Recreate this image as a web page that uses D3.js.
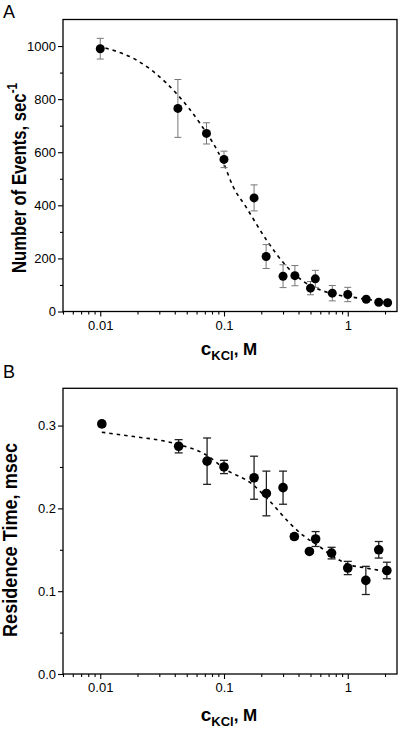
<!DOCTYPE html>
<html><head><meta charset="utf-8">
<script src="https://cdn.jsdelivr.net/npm/d3@7"></script>
<style>
html,body{margin:0;padding:0;background:#fff;}
svg{display:block;font-family:"Liberation Sans",Arial,sans-serif;}
</style></head>
<body>
<svg id="chart" width="400" height="735"></svg>
<script>
// ---- Data ----
const concA = [0.01, 0.0424, 0.0722, 0.1, 0.175, 0.219, 0.30, 0.374, 0.50, 0.547, 0.75, 1.0, 1.41, 1.78, 2.1];
const eventsA = [990, 765, 671, 573, 428, 207, 133, 135, 88, 123, 69, 64, 46, 35, 33];
const eventsErrA = [39, 109, 40, 31, 49, 45, 43, 38, 25, 32, 29, 27, 6, 4, 3];
const fitAx = [0.011, 0.02, 0.034, 0.0424, 0.0635, 0.1, 0.118, 0.15, 0.22, 0.32, 0.44, 0.72, 1.25, 2.0];
const fitAy = [993, 945, 862, 815, 711, 555, 472, 395, 270, 170, 113, 69, 50, 36];

const concB = [0.0103, 0.043, 0.073, 0.1, 0.175, 0.22, 0.30, 0.37, 0.49, 0.55, 0.74, 1.0, 1.4, 1.78, 2.07];
const timeB = [0.302, 0.275, 0.257, 0.250, 0.237, 0.218, 0.225, 0.166, 0.148, 0.163, 0.146, 0.128, 0.113, 0.150, 0.125];
const timeErrB = [0.003, 0.008, 0.028, 0.008, 0.026, 0.027, 0.020, 0.003, 0.002, 0.009, 0.007, 0.008, 0.017, 0.010, 0.010];
const fitBx = [0.0103, 0.018, 0.0336, 0.043, 0.071, 0.103, 0.17, 0.23, 0.34, 0.43, 0.59, 0.76, 1.03, 1.4, 2.0];
const fitBy = [0.292, 0.287, 0.281, 0.277, 0.265, 0.247, 0.229, 0.210, 0.182, 0.168, 0.154, 0.142, 0.132, 0.128, 0.124];

const xDomain = [0.005, 2.5];
const xMajor = [0.01, 0.1, 1];
const xMajorLabels = ["0.01", "0.1", "1"];
const xMinor = [0.005,0.006,0.007,0.008,0.009,0.02,0.03,0.04,0.05,0.06,0.07,0.08,0.09,0.2,0.3,0.4,0.5,0.6,0.7,0.8,0.9,2];
const yTicksA = [0, 200, 400, 600, 800, 1000];
const yMinorA = [100, 300, 500, 700, 900];
const yTicksB = [0, 0.1, 0.2, 0.3];
const yTickLabelsB = ["0.0", "0.1", "0.2", "0.3"];
const yMinorB = [0.05, 0.15, 0.25];

const svg = d3.select("#chart");

function panel(opt) {
  const x = d3.scaleLog().domain(xDomain).range([63, 397]);
  const y = d3.scaleLinear().domain(opt.yDomain).range([opt.bottom, opt.top]);
  const g = svg.append("g");

  // frame
  g.append("rect").attr("x", 63).attr("y", opt.top).attr("width", 334).attr("height", opt.bottom - opt.top)
    .attr("fill", "none").attr("stroke", "#000").attr("stroke-width", 1.3);

  // x axis
  const xAxis = d3.axisBottom(x).tickValues(xMajor).tickSize(5).tickPadding(4)
    .tickFormat((d, i) => xMajorLabels[i]);
  const xa = g.append("g").attr("transform", `translate(0,${opt.bottom})`).call(xAxis);
  xa.select(".domain").remove();
  const xm = d3.axisBottom(x).tickValues(xMinor).tickSize(3).tickFormat("");
  const xma = g.append("g").attr("transform", `translate(0,${opt.bottom})`).call(xm);
  xma.select(".domain").remove();

  // y axis
  const yAxis = d3.axisLeft(y).tickValues(opt.yTicks).tickSize(5).tickPadding(2)
    .tickFormat((d, i) => opt.yLabels[i]);
  const ya = g.append("g").attr("transform", `translate(63,0)`).call(yAxis);
  ya.select(".domain").remove();
  const ym = d3.axisLeft(y).tickValues(opt.yMinor).tickSize(3).tickFormat("");
  const yma = g.append("g").attr("transform", `translate(63,0)`).call(ym);
  yma.select(".domain").remove();

  g.selectAll(".tick line").attr("stroke", "#000").attr("stroke-width", 1.1);
  g.selectAll(".tick text").attr("font-size", 13).attr("fill", "#000")
    .attr("font-family", "'Liberation Sans', Arial, sans-serif");

  // fit curve
  const line = d3.line().x(d => x(d[0])).y(d => y(d[1])).curve(d3.curveMonotoneX);
  g.append("path").datum(opt.fx.map((v, i) => [v, opt.fy[i]]))
    .attr("d", line).attr("fill", "none").attr("stroke", "#000")
    .attr("stroke-width", 1.6).attr("stroke-dasharray", "3.5,4");

  // error bars
  const pts = opt.xs.map((v, i) => ({x: v, y: opt.ys[i], e: opt.es[i]}));
  const eb = g.append("g").attr("stroke", opt.errColor).attr("stroke-width", opt.errWidth);
  eb.selectAll("line.v").data(pts).join("line").attr("class", "v")
    .attr("x1", d => x(d.x)).attr("x2", d => x(d.x))
    .attr("y1", d => y(d.y - d.e)).attr("y2", d => y(d.y + d.e));
  eb.selectAll("line.t").data(pts).join("line").attr("class", "t")
    .attr("x1", d => x(d.x) - opt.cap).attr("x2", d => x(d.x) + opt.cap)
    .attr("y1", d => y(d.y + d.e)).attr("y2", d => y(d.y + d.e));
  eb.selectAll("line.b").data(pts).join("line").attr("class", "b")
    .attr("x1", d => x(d.x) - opt.cap).attr("x2", d => x(d.x) + opt.cap)
    .attr("y1", d => y(d.y - d.e)).attr("y2", d => y(d.y - d.e));

  // points
  g.append("g").selectAll("circle").data(pts).join("circle")
    .attr("cx", d => x(d.x)).attr("cy", d => y(d.y)).attr("r", opt.r).attr("fill", "#000");

  // panel letter
  svg.append("text").attr("x", opt.letterX).attr("y", opt.letterY).attr("font-size", 18)
    .attr("fill", "#000").text(opt.letter);

  // x title
  const xt = svg.append("text").attr("x", 229).attr("y", opt.xTitleY).attr("text-anchor", "middle")
    .attr("font-weight", "bold").attr("font-size", 17).attr("fill", "#000");
  xt.append("tspan").attr("font-size", 19).text("c");
  xt.append("tspan").attr("font-size", 13).attr("dy", 5).text("KCl");
  xt.append("tspan").attr("dy", -5).text(", M");

  // y title
  const yt = svg.append("text")
    .attr("transform", `translate(${opt.yTitleX},${opt.yTitleY}) rotate(-90)`)
    .attr("text-anchor", "middle").attr("font-weight", "bold").attr("font-size", 20)
    .attr("fill", "#000").attr("textLength", opt.yTitleLen).attr("lengthAdjust", "spacingAndGlyphs");
  yt.append("tspan").text(opt.yTitle);
  if (opt.yTitleSup) {
    yt.append("tspan").attr("font-size", 14).attr("dy", -9).text(opt.yTitleSup);
  }
}

panel({
  top: 19.5, bottom: 311.5, yDomain: [0, 1100],
  yTicks: yTicksA, yLabels: yTicksA.map(String), yMinor: yMinorA,
  xs: concA, ys: eventsA, es: eventsErrA, fx: fitAx, fy: fitAy,
  errColor: "#777", errWidth: 1, cap: 3.5, r: 4.5,
  letter: "A", letterX: 3, letterY: 18,
  xTitleY: 355, yTitleX: 26, yTitleY: 178, yTitleLen: 190,
  yTitle: "Number of Events, sec", yTitleSup: "-1"
});

panel({
  top: 388.3, bottom: 674, yDomain: [0, 0.345],
  yTicks: yTicksB, yLabels: yTickLabelsB, yMinor: yMinorB,
  xs: concB, ys: timeB, es: timeErrB, fx: fitBx, fy: fitBy,
  errColor: "#222", errWidth: 1.3, cap: 4, r: 4.8,
  letter: "B", letterX: 3, letterY: 378,
  xTitleY: 721, yTitleX: 17, yTitleY: 540, yTitleLen: 194,
  yTitle: "Residence Time, msec", yTitleSup: null
});
</script>
</body></html>
